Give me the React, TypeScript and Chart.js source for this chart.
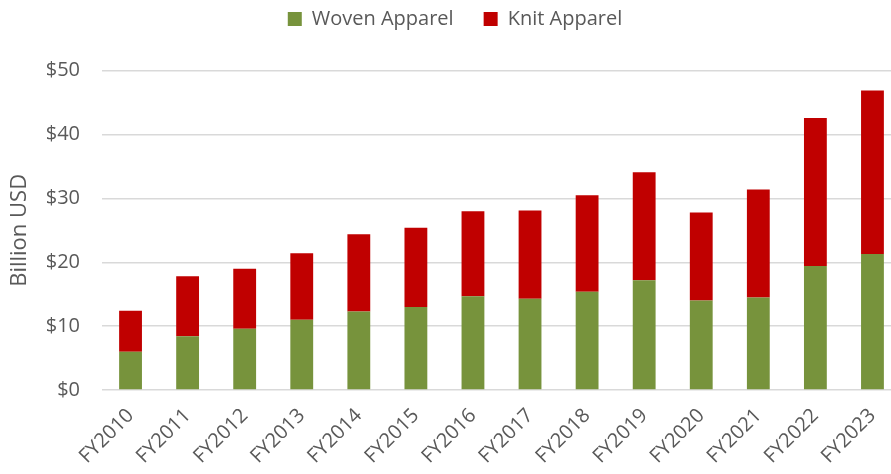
import React, { useEffect, useRef } from "react";
import { Chart, registerables } from "chart.js";

Chart.register(...registerables);

const categories = [
  "FY2010", "FY2011", "FY2012", "FY2013", "FY2014", "FY2015", "FY2016",
  "FY2017", "FY2018", "FY2019", "FY2020", "FY2021", "FY2022", "FY2023",
];
const wovenApparel = [6.0, 8.4, 9.6, 11.0, 12.3, 13.0, 14.7, 14.3, 15.4, 17.2, 14.0, 14.5, 19.4, 21.3];
const knitApparel = [6.4, 9.4, 9.4, 10.4, 12.1, 12.4, 13.3, 13.8, 15.1, 16.9, 13.8, 16.9, 23.2, 25.6];
const yTickValues = [0, 10, 20, 30, 40, 50];

const FONT = "'Open Sans', 'Noto Sans', sans-serif";
const TEXT = "#595959";
const LEGEND_TOP = -21;
const LEGEND_H = 91.7;

const legendSpacer = {
  id: "legendSpacer",
  beforeInit(chart: any) {
    const legend = chart.legend;
    if (!legend) return;
    const orig = legend.fit;
    legend.fit = function () {
      orig.call(this);
      this.height = LEGEND_H;
    };
  },
};

export default function App() {
  const ref = useRef<HTMLCanvasElement | null>(null);
  useEffect(() => {
    if (!ref.current) return;
    const chart = new Chart(ref.current, {
      type: "bar",
      data: {
        labels: categories,
        datasets: [
          { label: "Woven Apparel", data: wovenApparel, backgroundColor: "#77933C", borderWidth: 0 },
          { label: "Knit Apparel", data: knitApparel, backgroundColor: "#C00000", borderWidth: 0 },
        ],
      },
      options: {
        animation: false,
        responsive: true,
        maintainAspectRatio: false,
        layout: { padding: { top: LEGEND_TOP, left: 0, right: 0, bottom: 0 } },
        datasets: { bar: { barPercentage: 0.4, categoryPercentage: 1 } },
        plugins: {
          tooltip: { enabled: false },
          legend: {
            position: "top",
            labels: {
              boxWidth: 14,
              boxHeight: 14,
              padding: 30,
              color: TEXT,
              font: { family: FONT, size: 20 },
            },
          },
        },
        scales: {
          x: {
            stacked: true,
            grid: { display: false },
            border: { display: false },
            ticks: {
              color: TEXT,
              font: { family: FONT, size: 20 },
              minRotation: 45,
              maxRotation: 45,
              padding: 6,
              autoSkip: false,
            },
            afterFit(scale: any) {
              scale.height = 84;
            },
          },
          y: {
            stacked: true,
            min: 0,
            max: 50,
            afterBuildTicks(scale: any) {
              scale.ticks = yTickValues.map((v) => ({ value: v }));
            },
            grid: { color: "#d9d9d9", lineWidth: 1.5, drawTicks: false },
            border: { display: false },
            ticks: {
              color: TEXT,
              font: { family: FONT, size: 20 },
              padding: 22,
              callback: (v: any) => "$" + v,
            },
            title: {
              display: true,
              text: "Billion USD",
              color: TEXT,
              font: { family: FONT, size: 22, lineHeight: 1 },
              padding: 0,
            },
            afterFit(scale: any) {
              scale.width = 93;
            },
          },
        },
      },
      plugins: [legendSpacer],
    });
    return () => chart.destroy();
  }, []);

  return (
    <div style={{ position: "fixed", left: 0, top: 0, width: 891, height: 474, overflow: "hidden", background: "#fff" }}>
      <div style={{ position: "absolute", left: 9, top: 0, width: 892, height: 474 }}>
        <canvas ref={ref} />
      </div>
    </div>
  );
}
